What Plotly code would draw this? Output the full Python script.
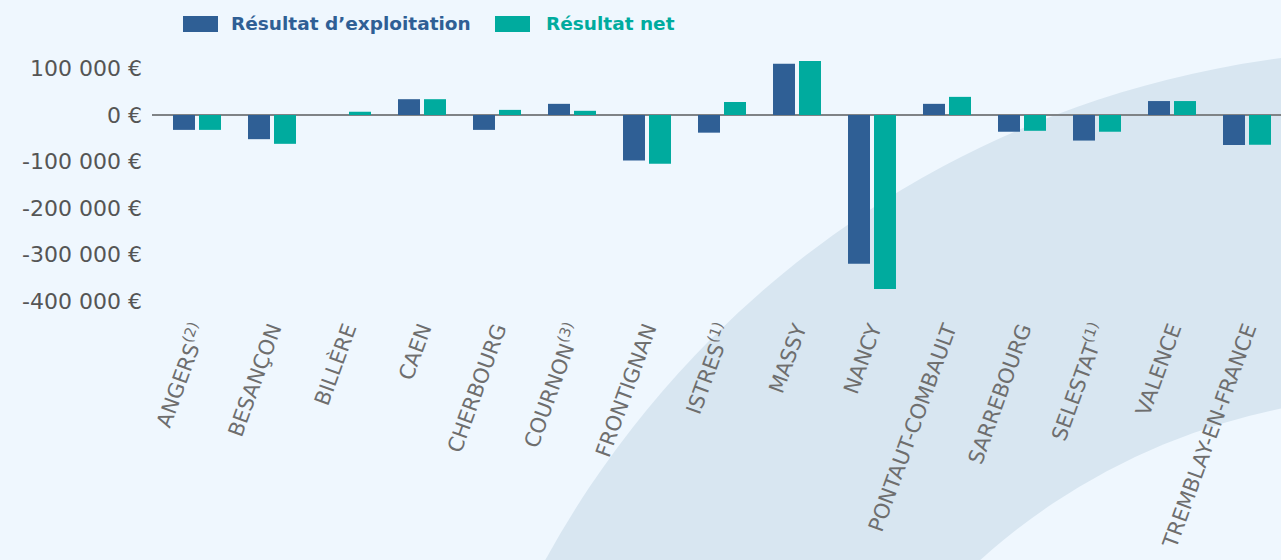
import plotly.graph_objects as go

categories = ["ANGERS<sup>(2)</sup>", "BESANÇON", "BILLÈRE", "CAEN", "CHERBOURG",
              "COURNON<sup>(3)</sup>", "FRONTIGNAN", "ISTRES<sup>(1)</sup>", "MASSY", "NANCY",
              "PONTAUT-COMBAULT", "SARREBOURG", "SELESTAT<sup>(1)</sup>", "VALENCE",
              "TREMBLAY-EN-FRANCE"]
resultat_exploitation = [-32000, -52000, 0, 34000, -32000, 24000, -98000, -38000,
                         110000, -320000, 24000, -36000, -55000, 30000, -64500]
resultat_net = [-32000, -62000, 7000, 34000, 11000, 9000, -105000, 28000,
                116000, -374000, 39000, -34000, -36000, 30000, -64000]
series_names = ["Résultat d’exploitation", "Résultat net"]
y_tick_values = [100000, 0, -100000, -200000, -300000, -400000]
y_tick_labels = ["100 000 €", "0 €", "-100 000 €", "-200 000 €", "-300 000 €", "-400 000 €"]

BLUE = "#2F5F95"
GREEN = "#00AB9E"
BG = "#EFF7FE"
BAND = "#D8E6F1"

W, H = 1281, 560
ML, MR, MT, MB = 152, 0, 45, 250
PW, PH = W - ML - MR, H - MT - MB


def px(x):
    return (x - ML) / PW


def py(y):
    return (H - MB - y) / PH


fig = go.Figure()
fig.add_trace(go.Bar(x=list(range(len(categories))), y=resultat_exploitation,
                     name=series_names[0], marker=dict(color=BLUE, line=dict(width=0))))
fig.add_trace(go.Bar(x=list(range(len(categories))), y=resultat_net,
                     name=series_names[1], marker=dict(color=GREEN, line=dict(width=0))))

shapes = []
# decorative ring
cx, cy, r_out, r_in = 1407, 1033, 983, 637
shapes.append(dict(type="circle", xref="paper", yref="paper", layer="below",
                   x0=px(cx - r_out), x1=px(cx + r_out), y0=py(cy + r_out), y1=py(cy - r_out),
                   fillcolor=BAND, line=dict(width=0)))
shapes.append(dict(type="circle", xref="paper", yref="paper", layer="below",
                   x0=px(cx - r_in), x1=px(cx + r_in), y0=py(cy + r_in), y1=py(cy - r_in),
                   fillcolor=BG, line=dict(width=0)))
# legend swatches
for x0, col in [(183, BLUE), (495, GREEN)]:
    shapes.append(dict(type="rect", xref="paper", yref="paper",
                       x0=px(x0), x1=px(x0 + 35), y0=py(32), y1=py(16),
                       fillcolor=col, line=dict(width=0)))

annotations = []
for x0, col, name in [(229, BLUE, series_names[0]), (544, GREEN, series_names[1])]:
    annotations.append(dict(xref="paper", yref="paper", x=px(x0), y=py(23),
                            xanchor="left", yanchor="middle", showarrow=False,
                            text=name, font=dict(family="DejaVu Sans", size=18.5,
                                                 color=col, weight="bold")))

fig.update_layout(
    width=W, height=H,
    margin=dict(l=ML, r=MR, t=MT, b=MB),
    paper_bgcolor=BG, plot_bgcolor="rgba(0,0,0,0)",
    barmode="group", bargap=0.307, bargroupgap=0.154,
    showlegend=False,
    shapes=shapes, annotations=annotations,
    xaxis=dict(range=[-0.6, (W - 197) / 75], tickmode="array",
               tickvals=list(range(len(categories))), ticktext=categories,
               tickangle=-70, showgrid=False, zeroline=False, showline=False,
               ticks="", ticklabelstandoff=2,
               tickfont=dict(family="DejaVu Sans", size=21, color="#6E6E6E",
                             style="normal", weight="normal")),
    yaxis=dict(range=[-(H - MB - 115) / 46.5 * 100000, (115 - MT) / 46.5 * 100000],
               tickmode="array", tickvals=y_tick_values, ticktext=y_tick_labels,
               showgrid=False, zeroline=True, zerolinecolor="#7F8386", zerolinewidth=2,
               showline=False, ticks="", ticklabelstandoff=9,
               tickfont=dict(family="DejaVu Sans", size=22, color="#555555")),
)

fig.write_html("out.html", config={"displayModeBar": False},
               post_script="document.body.style.margin='0';document.body.style.overflow='hidden';")
